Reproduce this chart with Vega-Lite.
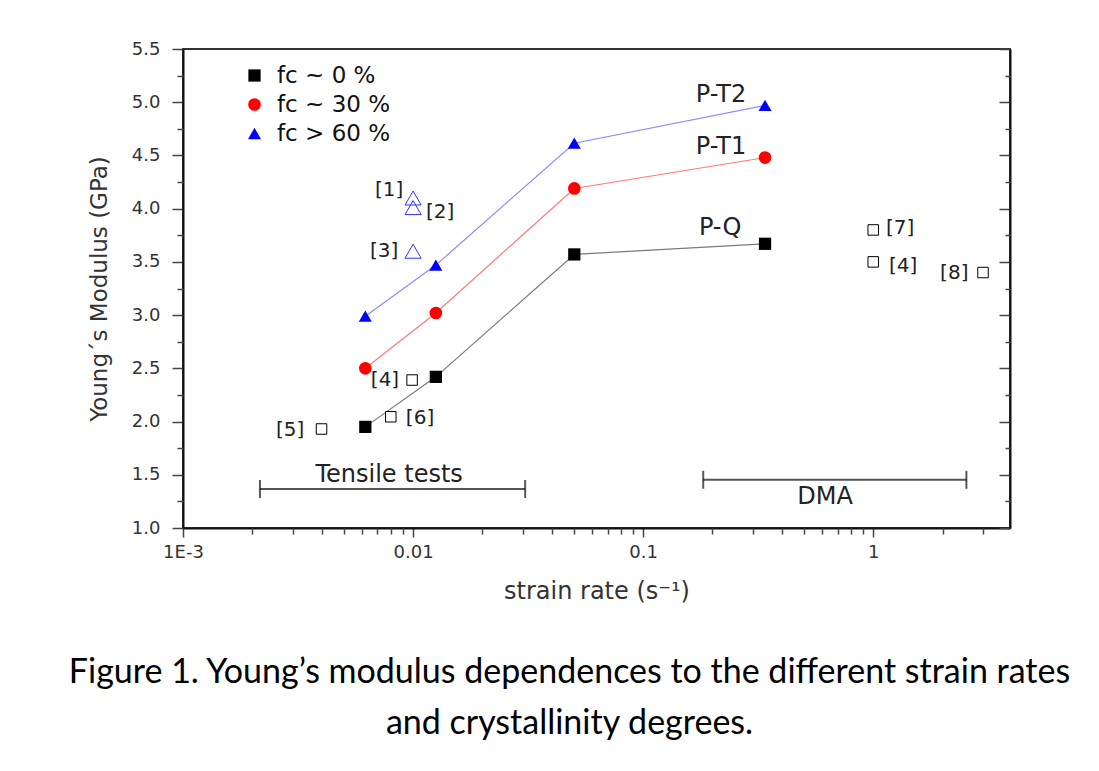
{
  "$schema": "https://vega.github.io/schema/vega-lite/v6.json",
  "width": 827,
  "height": 479,
  "autosize": {"type": "none"},
  "padding": {"left": 183, "top": 49, "right": 89, "bottom": 243},
  "background": "white",
  "resolve": {"axis": {"x": "independent", "y": "independent"}},
  "config": {
    "view": {"stroke": "#333", "strokeWidth": 2},
    "font": "DejaVu Sans",
    "axis": {
      "grid": false,
      "domainColor": "#111",
      "domainWidth": 2,
      "tickColor": "#444",
      "tickWidth": 1.5,
      "labelFont": "DejaVu Sans",
      "labelColor": "#333",
      "titleFont": "DejaVu Sans",
      "titleColor": "#333",
      "titleFontWeight": "normal",
      "labelFlush": false
    },
    "legend": {
      "orient": "none",
      "legendX": 60,
      "legendY": 15,
      "padding": 0,
      "labelFont": "DejaVu Sans",
      "labelFontSize": 23,
      "labelColor": "#111",
      "symbolStrokeWidth": 0,
      "labelOffset": 11,
      "rowPadding": 5
    }
  },
  "title": {
    "text": ["Figure 1. Young’s modulus dependences to the different strain rates", "and crystallinity degrees."],
    "orient": "bottom",
    "anchor": "middle",
    "frame": "group",
    "font": "Lato",
    "fontSize": 34,
    "fontWeight": "normal",
    "color": "#000",
    "lineHeight": 51,
    "offset": 53,
    "dx": -27
  },
  "datasets": {
    "series": [
      {"fc": "fc ~ 0 %", "rate": 0.0062, "modulus": 1.95},
      {"fc": "fc ~ 0 %", "rate": 0.01256, "modulus": 2.42},
      {"fc": "fc ~ 0 %", "rate": 0.0502, "modulus": 3.57},
      {"fc": "fc ~ 0 %", "rate": 0.3386, "modulus": 3.67},
      {"fc": "fc ~ 30 %", "rate": 0.0062, "modulus": 2.5},
      {"fc": "fc ~ 30 %", "rate": 0.01256, "modulus": 3.02},
      {"fc": "fc ~ 30 %", "rate": 0.0502, "modulus": 4.19},
      {"fc": "fc ~ 30 %", "rate": 0.3386, "modulus": 4.48},
      {"fc": "fc > 60 %", "rate": 0.0062, "modulus": 2.99},
      {"fc": "fc > 60 %", "rate": 0.01256, "modulus": 3.47},
      {"fc": "fc > 60 %", "rate": 0.0502, "modulus": 4.615},
      {"fc": "fc > 60 %", "rate": 0.3386, "modulus": 4.97}
    ],
    "refs": [
      {"ref": "[1]", "kind": "triangle", "rate": 0.01, "modulus": 4.1},
      {"ref": "[2]", "kind": "triangle", "rate": 0.01, "modulus": 4.01},
      {"ref": "[3]", "kind": "triangle", "rate": 0.01, "modulus": 3.6},
      {"ref": "[4]", "kind": "square", "rate": 0.0099, "modulus": 2.39},
      {"ref": "[5]", "kind": "square", "rate": 0.004, "modulus": 1.93},
      {"ref": "[6]", "kind": "square", "rate": 0.008, "modulus": 2.045},
      {"ref": "[7]", "kind": "square", "rate": 1.0, "modulus": 3.8},
      {"ref": "[4]", "kind": "square", "rate": 1.0, "modulus": 3.5},
      {"ref": "[8]", "kind": "square", "rate": 3.0, "modulus": 3.4}
    ],
    "reflabels": [
      {"label": "[1]", "rate": 0.00787, "modulus": 4.176},
      {"label": "[2]", "rate": 0.0131, "modulus": 3.97},
      {"label": "[3]", "rate": 0.00748, "modulus": 3.603},
      {"label": "[4]", "rate": 0.00755, "modulus": 2.392},
      {"label": "[6]", "rate": 0.01072, "modulus": 2.035},
      {"label": "[5]", "rate": 0.00292, "modulus": 1.923},
      {"label": "[7]", "rate": 1.31, "modulus": 3.819},
      {"label": "[4]", "rate": 1.35, "modulus": 3.462},
      {"label": "[8]", "rate": 2.25, "modulus": 3.397}
    ],
    "notes": [
      {"label": "P-T2", "rate": 0.218, "modulus": 5.068},
      {"label": "P-T1", "rate": 0.218, "modulus": 4.58},
      {"label": "P-Q", "rate": 0.216, "modulus": 3.819},
      {"label": "Tensile tests", "rate": 0.00787, "modulus": 1.5},
      {"label": "DMA", "rate": 0.618, "modulus": 1.293}
    ],
    "ranges": [
      {"range": "Tensile tests", "from": 0.00216, "to": 0.0307, "modulus": 1.366},
      {"range": "DMA", "from": 0.1824, "to": 2.54, "modulus": 1.453}
    ]
  },
  "layer": [
    {
      "data": {"name": "series"},
      "transform": [{"filter": "datum.fc == 'fc ~ 0 %'"}],
      "mark": {"type": "line", "strokeWidth": 1.2, "color": "#7a7a7a"},
      "encoding": {
        "x": {
          "field": "rate",
          "type": "quantitative",
          "scale": {"type": "log", "domain": [0.001, 3.93], "nice": false},
          "axis": {
            "orient": "bottom",
            "title": "strain rate (s⁻¹)",
            "titleFontSize": 24,
            "titlePadding": 18,
            "labelFontSize": 18,
            "labelPadding": 6,
            "tickSize": 9,
            "values": [0.001, 0.01, 0.1, 1],
            "labelExpr": "datum.value < 0.0015 ? '1E-3' : format(datum.value, '~g')"
          }
        },
        "y": {
          "field": "modulus",
          "type": "quantitative",
          "scale": {"domain": [1, 5.5], "nice": false, "zero": false},
          "axis": {
            "orient": "left",
            "title": "Young´s Modulus (GPa)",
            "titleFontSize": 23,
            "titlePadding": 20,
            "labelFontSize": 18,
            "labelPadding": 12,
            "tickSize": 11,
            "values": [1, 1.5, 2, 2.5, 3, 3.5, 4, 4.5, 5, 5.5],
            "format": ".1f"
          }
        }
      }
    },
    {
      "data": {"name": "series"},
      "transform": [{"filter": "datum.fc == 'fc ~ 30 %'"}],
      "mark": {"type": "line", "strokeWidth": 1.2, "color": "#ff7a7a"},
      "encoding": {
        "x": {"field": "rate", "type": "quantitative", "axis": null},
        "y": {"field": "modulus", "type": "quantitative", "axis": null}
      }
    },
    {
      "data": {"name": "series"},
      "transform": [{"filter": "datum.fc == 'fc > 60 %'"}],
      "mark": {"type": "line", "strokeWidth": 1.2, "color": "#8a8aff"},
      "encoding": {
        "x": {"field": "rate", "type": "quantitative", "axis": null},
        "y": {"field": "modulus", "type": "quantitative", "axis": null}
      }
    },
    {
      "data": {"name": "series"},
      "mark": {"type": "point", "filled": true, "opacity": 1},
      "encoding": {
        "x": {
          "field": "rate",
          "type": "quantitative",
          "axis": {
            "orient": "bottom",
            "title": null,
            "labels": false,
            "domain": false,
            "tickSize": 6,
            "values": [0.002, 0.003, 0.004, 0.005, 0.006, 0.007, 0.008, 0.009, 0.02, 0.03, 0.04, 0.05, 0.06, 0.07, 0.08, 0.09, 0.2, 0.3, 0.4, 0.5, 0.6, 0.7, 0.8, 0.9, 2, 3]
          }
        },
        "y": {
          "field": "modulus",
          "type": "quantitative",
          "axis": {
            "orient": "left",
            "title": null,
            "labels": false,
            "domain": false,
            "tickSize": 6,
            "values": [1.25, 1.75, 2.25, 2.75, 3.25, 3.75, 4.25, 4.75, 5.25]
          }
        },
        "color": {
          "field": "fc",
          "type": "nominal",
          "title": null,
          "scale": {"domain": ["fc ~ 0 %", "fc ~ 30 %", "fc > 60 %"], "range": ["#000000", "#ff0000", "#0000ff"]}
        },
        "shape": {
          "field": "fc",
          "type": "nominal",
          "title": null,
          "scale": {"domain": ["fc ~ 0 %", "fc ~ 30 %", "fc > 60 %"], "range": ["square", "circle", "triangle-up"]}
        },
        "size": {
          "field": "fc",
          "type": "nominal",
          "title": null,
          "scale": {"domain": ["fc ~ 0 %", "fc ~ 30 %", "fc > 60 %"], "range": [150, 170, 280]}
        }
      }
    },
    {
      "data": {"name": "refs"},
      "transform": [{"filter": "datum.kind == 'square'"}],
      "mark": {"type": "point", "shape": "square", "filled": false, "color": "#000", "fill": "#fff", "size": 110, "strokeWidth": 1, "opacity": 1},
      "encoding": {
        "x": {"field": "rate", "type": "quantitative", "axis": null},
        "y": {
          "field": "modulus",
          "type": "quantitative",
          "axis": {
            "orient": "right",
            "title": null,
            "labels": false,
            "tickSize": -11,
            "values": [1, 1.5, 2, 2.5, 3, 3.5, 4, 4.5, 5, 5.5]
          }
        }
      }
    },
    {
      "data": {"name": "refs"},
      "transform": [{"filter": "datum.kind == 'triangle'"}],
      "mark": {"type": "point", "shape": "triangle-up", "filled": false, "color": "#3333ff", "size": 260, "strokeWidth": 1, "opacity": 1},
      "encoding": {
        "x": {"field": "rate", "type": "quantitative", "axis": null},
        "y": {
          "field": "modulus",
          "type": "quantitative",
          "axis": {
            "orient": "right",
            "title": null,
            "labels": false,
            "domain": false,
            "tickSize": -5,
            "values": [1.25, 1.75, 2.25, 2.75, 3.25, 3.75, 4.25, 4.75, 5.25]
          }
        }
      }
    },
    {
      "data": {"name": "ranges"},
      "mark": {"type": "rule", "color": "#555", "strokeWidth": 2},
      "encoding": {
        "x": {"field": "from", "type": "quantitative", "axis": null},
        "x2": {"field": "to"},
        "y": {"field": "modulus", "type": "quantitative", "axis": null}
      }
    },
    {
      "data": {"name": "ranges"},
      "transform": [{"fold": ["from", "to"], "as": ["end", "endRate"]}],
      "mark": {"type": "tick", "orient": "vertical", "color": "#111", "size": 18, "thickness": 2},
      "encoding": {
        "x": {"field": "endRate", "type": "quantitative", "axis": null},
        "y": {"field": "modulus", "type": "quantitative", "axis": null}
      }
    },
    {
      "data": {"name": "reflabels"},
      "mark": {"type": "text", "font": "DejaVu Sans", "fontSize": 20, "color": "#222", "align": "center", "baseline": "middle"},
      "encoding": {
        "x": {"field": "rate", "type": "quantitative", "axis": null},
        "y": {"field": "modulus", "type": "quantitative", "axis": null},
        "text": {"field": "label"}
      }
    },
    {
      "data": {"name": "notes"},
      "mark": {"type": "text", "font": "DejaVu Sans", "fontSize": 24, "color": "#222", "align": "center", "baseline": "middle"},
      "encoding": {
        "x": {"field": "rate", "type": "quantitative", "axis": null},
        "y": {"field": "modulus", "type": "quantitative", "axis": null},
        "text": {"field": "label"}
      }
    }
  ]
}
